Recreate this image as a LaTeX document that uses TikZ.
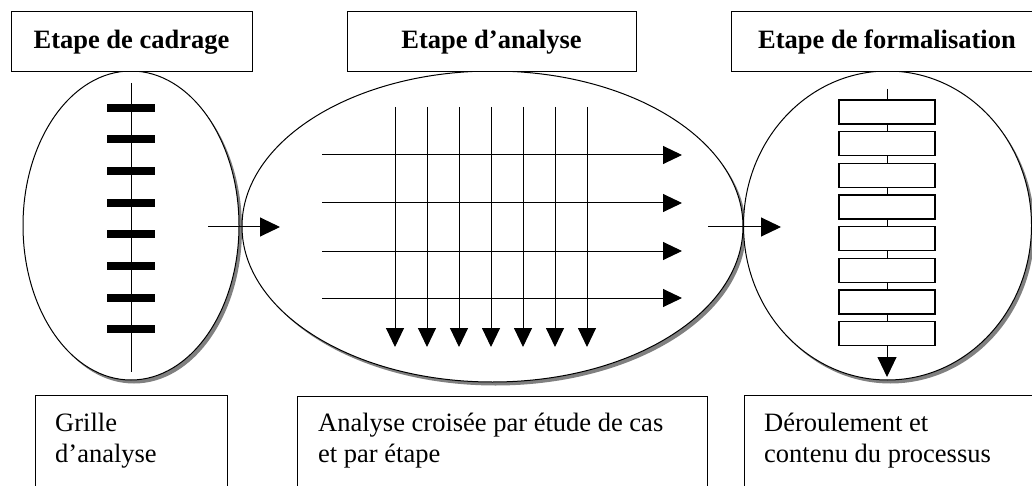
\documentclass[tikz,border=0pt]{standalone}
\usepackage{fontspec}
\setmainfont{Liberation Serif}
\usetikzlibrary{shapes.geometric,arrows.meta,shadows}
\begin{document}
\begin{tikzpicture}[x=1pt,y=-1pt,
  stage/.style={draw, line width=1pt, fill=white, ellipse, inner sep=0pt, outer sep=0pt,
    drop shadow={shadow xshift=3pt, shadow yshift=-3.5pt, fill=black!50, opacity=1}},
  titlebox/.style={draw, line width=1pt, fill=white, inner sep=0pt, minimum height=60pt,
    text height=20pt, text depth=6pt, font=\fontsize{26.5}{30}\selectfont\bfseries},
  capbox/.style={draw, line width=1pt, fill=white, anchor=north west, minimum height=120pt},
  captext/.style={anchor=base west, align=left, inner sep=0pt,
    font=\fontsize{26.5}{30.5}\selectfont},
  flow/.style={line width=1pt, -{Triangle[length=20pt,width=19pt]}},
  gridarrow/.style={line width=1pt, -{Triangle[length=19pt,width=18pt]}},
  bar/.style={fill=black},
  stepcell/.style={draw, line width=1.3pt, fill=white}
]
\clip (0,0) rectangle (1032,486);

% the three stages
\node[stage, minimum width=216pt, minimum height=309pt] (cadrage) at (131,225.5) {};
\node[stage, minimum width=501pt, minimum height=311pt] (analyse) at (492.5,226.5) {};
\node[stage, minimum width=288pt, minimum height=309pt] (formal) at (887.5,225.5) {};

% stage titles
\node[titlebox, minimum width=241pt] (t1) at (131.5,42) {Etape de cadrage};
\node[titlebox, minimum width=289pt] (t2) at (491.5,42) {Etape d’analyse};
\node[titlebox, minimum width=312pt] (t3) at (887,42) {Etape de formalisation};

% framing grid: spine with eight bars
\draw[line width=1pt] (131,83) -- (131,372);
\foreach \i in {0,...,7}
  \fill[bar] (107,{103.7+31.67*\i}) rectangle (155,{111.7+31.67*\i});

% cross analysis grid
\foreach \x in {395,427,459,491,523,555,587}
  \draw[gridarrow] (\x,107) -- (\x,347);
\foreach \y in {155,203,251,298}
  \draw[gridarrow] (322,\y) -- (682,\y);

% process flow: chain of steps
\draw[flow] (887,89) -- (887,377);
\foreach \i in {0,...,7}
  \draw[stepcell] (839,{100+31.67*\i}) rectangle (935,{124+31.67*\i});

% links between stages
\coordinate (l1s) at (208,227);
\coordinate (l1e) at (280,227);
\coordinate (l2s) at (708,227);
\coordinate (l2e) at (781,227);
\draw[flow] (l1s) -- (l1e);
\draw[flow] (l2s) -- (l2e);

% captions (base anchor sits on the last line)
\node[capbox, minimum width=192pt] (c1) at (35,395) {};
\node[capbox, minimum width=410pt] (c2) at (297,396) {};
\node[capbox, minimum width=310pt] (c3) at (744,395) {};
\node[captext] (d1) at (55,462) {Grille\\d’analyse};
\node[captext] (d2) at (318,462) {Analyse croisée par étude de cas\\et par étape};
\node[captext] (d3) at (764,462) {Déroulement et\\contenu du processus};
\end{tikzpicture}
\end{document}
